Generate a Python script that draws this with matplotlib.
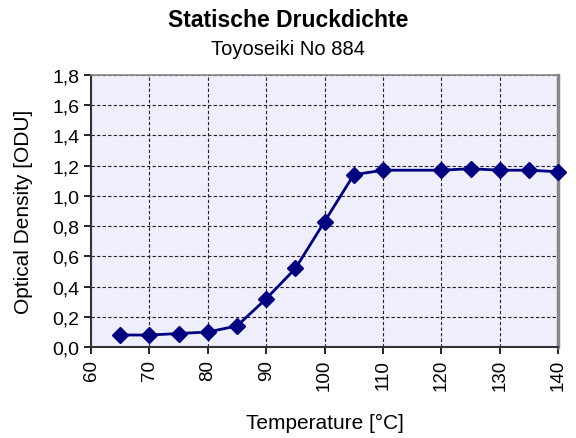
import matplotlib
matplotlib.use('Agg')
import matplotlib.pyplot as plt
from matplotlib.ticker import FuncFormatter

temps = [65, 70, 75, 80, 85, 90, 95, 100, 105, 110, 120, 125, 130, 135, 140]
density = [0.08, 0.08, 0.09, 0.10, 0.14, 0.32, 0.52, 0.83, 1.14, 1.17,
           1.17, 1.18, 1.17, 1.17, 1.16]
x_ticks = [60, 70, 80, 90, 100, 110, 120, 130, 140]
y_ticks = [0.0, 0.2, 0.4, 0.6, 0.8, 1.0, 1.2, 1.4, 1.6, 1.8]

plt.rcParams['font.family'] = ['Liberation Sans', 'DejaVu Sans']

fig = plt.figure(figsize=(5.76, 4.39), dpi=100)
ax = fig.add_axes([0.158, 0.207, 0.811, 0.620])
ax.set_facecolor('#EEEEFC')

ax.plot(temps, density, color='#000080', lw=2, marker='D', ms=8.5,
        zorder=3, clip_on=False)

ax.set_xlim(60, 140)
ax.set_ylim(0, 1.8)
ax.set_xticks(x_ticks)
ax.set_yticks(y_ticks)
ax.yaxis.set_major_formatter(FuncFormatter(lambda v, p: f'{v:.1f}'.replace('.', ',')))
ax.tick_params(axis='x', labelrotation=90, labelsize=13.5, length=5, width=1.2)
ax.tick_params(axis='y', labelsize=14, length=5, width=1.2)
ax.grid(True, color='#222222', ls=(0, (3, 2)), lw=0.8)
ax.set_axisbelow(True)

for s in ['left', 'bottom']:
    ax.spines[s].set_color('#333333')
    ax.spines[s].set_linewidth(1.5)
ax.spines['top'].set_color('#888888')
ax.spines['top'].set_linewidth(1.2)
ax.spines['right'].set_color('#888888')
ax.spines['right'].set_linewidth(2.5)

ax.set_xlabel('Temperature [°C]', fontsize=15)
ax.set_ylabel('Optical Density [ODU]', fontsize=15)
ax.xaxis.set_label_coords(0.5, -0.243)
ax.yaxis.set_label_coords(-0.124, 0.5)

fig.text(0.5, 0.953, 'Statische Druckdichte', ha='center', va='center',
         fontsize=16.5, fontweight='bold')
fig.text(0.5, 0.888, 'Toyoseiki No 884', ha='center', va='center', fontsize=14.5)

fig.savefig('out.png', dpi=100)
